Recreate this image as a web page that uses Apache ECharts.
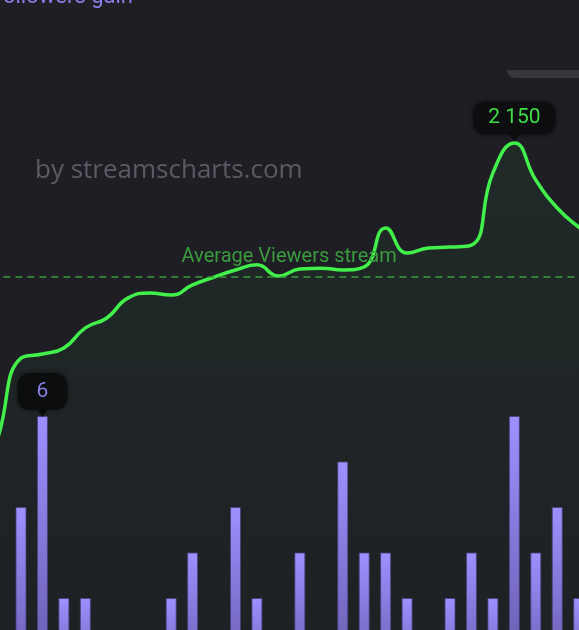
<!DOCTYPE html>
<html>
<head>
<meta charset="utf-8">
<script src="https://cdn.jsdelivr.net/npm/echarts/dist/echarts.min.js"></script>
<style>
html,body{margin:0;padding:0;background:#1e1e24;overflow:hidden;}
#c{width:579px;height:630px;}
</style>
</head>
<body>
<div id="c"></div>
<script>
// ---- data ----
var categories = ['00:00','00:30','01:00','01:30','02:00','02:30','03:00','03:30','04:00','04:30',
  '05:00','05:30','06:00','06:30','07:00','07:30','08:00','08:30','09:00','09:30',
  '10:00','10:30','11:00','11:30','12:00','12:30','13:00','13:30','14:00','14:30'];
var viewers = [700, 1012, 1303, 1319, 1343, 1422, 1461, 1540, 1559, 1551, 1591, 1622, 1650, 1670, 1626,
  1654, 1657, 1650, 1662, 1815, 1717, 1736, 1740, 1748, 2032, 2150, 2004, 1894, 1819, 1760];
var followers = [0, 0, 4, 6, 2, 2, 0, 0, 0, 2, 3, 0, 4, 2, 0, 3, 0, 5, 3, 3, 2, 0, 2, 3, 2, 6, 3, 4, 2, 0];
var averageViewers = 1622;
var peakViewersIndex = 25;
var peakFollowersIndex = 3;

var chart = echarts.init(document.getElementById('c'), null, {renderer: 'canvas'});
var option = {
  backgroundColor: '#1e1e24',
  animation: false,
  grid: {left: -32.625, width: 643.5, top: 97.5, height: 591.5, containLabel: false, outerBoundsMode: 'none'},
  xAxis: {type: 'category', data: categories, show: false, boundaryGap: true},
  yAxis: [
    {type: 'value', min: 0, max: 13, show: false},
    {type: 'value', min: 0, max: 2329, show: false}
  ],
  graphic: [
    {type: 'text', left: -9, top: -14, style: {text: 'Followers gain', font: '22px Roboto', fill: '#8b7fe8'}},
    {type: 'rect', shape: {x: 507, y: 70, width: 90, height: 8, r: [0, 0, 8, 8]}, style: {fill: '#37373e'}},
    {type: 'text', left: 35, top: 158, style: {text: 'by streamscharts.com', font: '26px "Open Sans"', fill: '#5b5b64'}}
  ],
  series: [
    {
      type: 'line', yAxisIndex: 1, data: viewers, smooth: 0.5, symbol: 'none', z: 2,
      lineStyle: {color: '#41f04b', width: 3.5},
      areaStyle: {color: new echarts.graphic.LinearGradient(0, 0, 0, 1, [
        {offset: 0, color: 'rgba(60,200,80,0.10)'},
        {offset: 1, color: 'rgba(60,200,80,0.01)'}
      ])},
      markLine: {
        silent: true, symbol: 'none',
        lineStyle: {color: '#3a9e3e', type: [7, 5], width: 1.5},
        label: {position: 'insideMiddleTop', formatter: 'Average Viewers stream', color: '#3b9c3e',
          fontSize: 20, fontFamily: 'Roboto', distance: 10},
        data: [{yAxis: averageViewers}]
      },
      markPoint: {
        symbol: 'triangle', symbolSize: [10, 7], symbolRotate: 180, symbolOffset: [0, -5],
        itemStyle: {color: '#0d0e10'},
        label: {show: true, position: 'top', distance: 0, formatter: '2 150', color: '#3fdc47',
          fontSize: 21, fontFamily: 'Roboto', backgroundColor: '#0d0e10', borderRadius: 12,
          padding: [6, 15], shadowColor: 'rgba(0,0,0,0.5)', shadowBlur: 6},
        data: [{coord: [peakViewersIndex, viewers[peakViewersIndex]]}]
      }
    },
    {
      type: 'bar', yAxisIndex: 0, data: followers, barWidth: 11, z: 3,
      itemStyle: {
        color: new echarts.graphic.LinearGradient(0, 0, 0, 1, [
          {offset: 0, color: '#9e90ff'},
          {offset: 1, color: '#6358a8'}
        ]),
        borderColor: 'rgba(70,64,120,0.8)', borderWidth: 1
      },
      markPoint: {
        symbol: 'triangle', symbolSize: [9, 7], symbolRotate: 180, symbolOffset: [0, -2.5],
        itemStyle: {color: '#0c0d0f'},
        label: {show: true, position: 'top', distance: 0, formatter: '6', color: '#8b7fe8',
          fontSize: 21, fontFamily: 'Roboto', backgroundColor: '#0c0d0f', borderRadius: 12,
          padding: [8, 19], shadowColor: 'rgba(0,0,0,0.5)', shadowBlur: 6},
        data: [{coord: [peakFollowersIndex, followers[peakFollowersIndex]]}]
      }
    }
  ]
};
chart.setOption(option);
</script>
</body>
</html>
